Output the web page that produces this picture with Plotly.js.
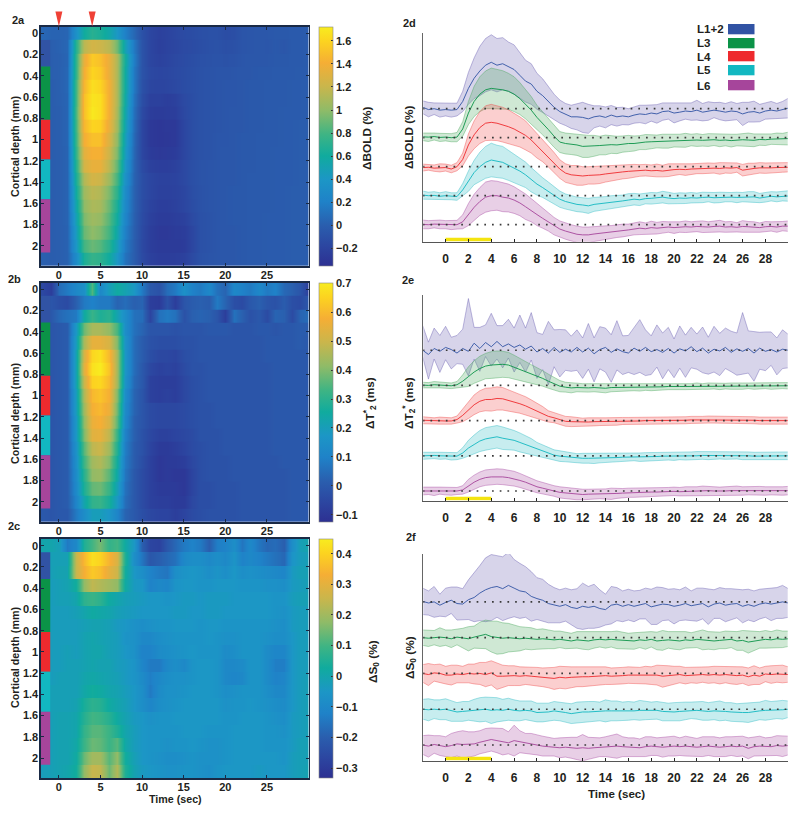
<!DOCTYPE html>
<html><head><meta charset="utf-8">
<script src="https://cdn.plot.ly/plotly-3.0.1.min.js"></script>
<style>html,body{margin:0;padding:0;background:#fff}</style></head><body>
<div id="chart" style="width:800px;height:814px"></div>
<script>
// ---- heatmap values, hundredths; one row per depth, one column per second from -2 to 30
const HEAT_A=[
[5,3,3,4,35,60,70,65,55,40,20,5,-10,-18,-22,-20,-17,-14,-13,-11,-10,-10,-13,-12,-7,-6,-5,-5,-4,-4,-3,-3,-2],
[3,0,2,5,70,115,125,122,115,92,50,15,-8,-18,-23,-20,-18,-15,-14,-12,-10,-9,-11,-10,-7,-6,-5,-6,-4,-6,-3,-3,-2],
[2,0,1,4,75,135,155,150,135,110,62,18,-8,-18,-21,-19,-16,-14,-12,-10,-9,-8,-9,-8,-6,-5,-5,-5,-4,-4,-3,-3,-2],
[3,0,1,5,75,140,160,155,135,110,60,15,-8,-16,-18,-17,-15,-13,-11,-9,-8,-7,-7,-6,-5,-5,-4,-4,-3,-3,-3,-2,-2],
[2,-1,1,5,80,145,165,160,140,110,60,15,-10,-18,-19,-18,-16,-13,-11,-9,-8,-7,-6,-6,-5,-4,-4,-3,-3,-3,-2,-2,-1],
[2,-1,1,4,80,150,168,165,140,110,58,12,-12,-22,-22,-24,-22,-15,-12,-9,-8,-7,-6,-6,-5,-4,-4,-3,-3,-3,-2,-2,-1],
[1,-1,0,4,82,150,170,165,140,108,55,10,-15,-25,-26,-25,-24,-16,-12,-9,-8,-7,-6,-5,-5,-4,-4,-3,-3,-2,-2,-2,-1],
[1,-1,0,4,80,145,160,158,135,105,52,8,-18,-28,-30,-28,-28,-18,-12,-9,-8,-7,-6,-5,-5,-4,-4,-3,-3,-2,-2,-1,-1],
[1,-1,0,4,78,140,150,150,128,100,48,6,-18,-28,-30,-29,-28,-18,-12,-9,-8,-6,-6,-5,-4,-4,-3,-3,-3,-2,-2,-1,-1],
[1,-1,0,3,75,132,142,142,122,95,45,5,-18,-26,-28,-27,-26,-18,-12,-9,-8,-6,-5,-5,-4,-4,-3,-3,-2,-2,-2,-1,-1],
[1,-1,0,3,70,125,135,135,115,88,40,4,-14,-22,-24,-24,-22,-16,-11,-8,-7,-6,-5,-5,-4,-4,-3,-3,-2,-2,-2,-1,-1],
[1,-1,0,3,65,112,125,122,105,80,35,3,-12,-18,-21,-21,-20,-16,-11,-8,-7,-6,-5,-5,-4,-3,-3,-3,-2,-2,-2,-1,-1],
[1,-1,0,3,60,105,115,112,95,72,30,2,-12,-18,-22,-22,-21,-18,-12,-9,-7,-6,-5,-4,-4,-3,-3,-3,-2,-2,-1,-1,-1],
[1,-1,0,3,55,100,110,108,90,65,27,2,-13,-20,-24,-24,-22,-18,-13,-9,-7,-6,-5,-4,-4,-3,-3,-3,-2,-2,-1,-1,-1],
[1,-1,0,3,50,95,105,102,85,60,24,1,-14,-22,-26,-26,-24,-22,-15,-10,-8,-6,-5,-4,-4,-3,-3,-2,-2,-2,-1,-1,-1],
[1,-1,0,2,45,90,100,95,80,54,20,0,-15,-24,-28,-28,-26,-25,-18,-10,-8,-6,-5,-5,-4,-3,-3,-2,-2,-2,-1,-1,-1],
[1,-1,0,2,40,80,90,85,70,47,16,-1,-16,-24,-27,-27,-27,-26,-18,-10,-8,-6,-5,-5,-4,-3,-3,-2,-2,-2,-1,-1,-1],
[1,-1,0,2,30,65,75,72,60,40,12,-1,-15,-22,-25,-25,-24,-22,-15,-9,-7,-6,-5,-5,-4,-3,-3,-2,-2,-2,-1,-1,-1]];
const HEAT_B=[
[-5,-8,5,8,12,15,35,12,20,25,22,18,8,0,-2,5,8,15,10,8,12,6,3,12,10,8,12,8,10,4,2,-1,-8],
[-2,-1,-3,-4,2,8,10,8,8,3,5,2,3,-8,-9,-2,-8,-1,1,2,1,8,3,-3,-4,0,2,-1,-2,1,-3,-4,0],
[-2,0,4,6,8,25,32,28,30,22,14,6,5,-6,6,8,6,-2,2,3,2,-1,-8,6,2,-2,0,-4,3,2,-4,3,5],
[-1,-1,0,1,18,38,45,45,42,34,14,6,3,-1,-1,-1,-2,-1,-1,-1,0,0,0,-1,-1,-1,0,0,-1,0,0,1,1],
[0,-1,0,1,20,45,55,55,52,40,16,5,1,-2,-3,-3,-3,-2,-2,-1,-1,-1,-1,-1,-1,-1,-1,0,0,0,0,1,0],
[0,-1,0,1,22,52,66,68,60,44,17,5,1,-3,-5,-5,-6,-3,-2,-1,-1,-1,-1,-1,-1,-1,-1,0,0,0,0,0,0],
[0,-1,0,1,22,54,68,70,62,44,17,5,0,-5,-7,-6,-7,-4,-2,-2,-1,-1,-1,-1,-1,-1,-1,-1,0,0,0,0,0],
[0,-1,0,1,22,50,65,66,60,44,16,4,0,-7,-8,-8,-8,-5,-3,-2,-1,-1,-1,-1,-1,-1,-1,-1,0,0,0,0,0],
[0,-1,0,1,20,46,60,62,58,40,14,3,-1,-7,-8,-7,-8,-5,-3,-2,-1,-1,-1,-1,-1,-1,-1,-1,0,0,0,0,0],
[0,-1,0,1,20,44,58,60,56,38,13,3,-1,-4,-5,-5,-5,-4,-3,-2,-2,-1,-1,-1,-1,-1,-1,-1,0,0,0,0,0],
[0,-1,0,1,18,42,56,58,52,36,12,2,-1,-4,-5,-5,-5,-4,-3,-2,-2,-1,-1,-1,-1,-1,-1,-1,0,0,0,0,0],
[0,-1,0,1,18,40,54,55,48,32,10,2,-2,-5,-7,-7,-6,-5,-4,-2,-2,-2,-1,-1,-1,-1,-1,-1,0,0,0,0,0],
[0,-1,0,1,16,36,48,50,44,29,9,1,-2,-6,-9,-9,-8,-6,-4,-3,-2,-2,-1,-1,-1,-1,-1,-1,0,0,0,0,0],
[0,-1,0,1,15,33,44,46,40,26,8,1,-3,-7,-10,-9,-9,-8,-5,-3,-2,-2,-2,-1,-1,-1,-1,-1,-1,0,0,0,0],
[0,-1,0,1,14,30,42,43,36,24,7,0,-4,-7,-10,-9,-10,-10,-6,-3,-2,-2,-2,-1,-1,-1,-1,-1,-1,-1,0,0,0],
[0,-1,0,1,13,28,37,38,32,21,6,0,-4,-7,-9,-9,-9,-10,-6,-3,-3,-2,-2,-2,-1,-1,-1,-1,-1,-1,0,0,0],
[0,-1,0,1,11,23,31,32,27,18,5,0,-4,-7,-8,-8,-9,-9,-5,-3,-3,-2,-2,-2,-1,-1,-1,-1,-1,-1,0,0,0],
[0,-1,0,0,8,14,20,20,17,11,3,0,-3,-5,-6,-6,-8,-6,-4,-3,-2,-2,-2,-2,-1,-1,-1,-1,-1,-1,0,0,0]];
const HEAT_C=[
[0,0,-2,-14,-10,5,10,15,8,10,2,-5,-20,-27,-28,-22,-18,-14,-12,-14,-20,-13,-12,-8,-15,-10,-15,-18,-17,-20,-8,-2,0],
[-3,-2,-2,-2,25,35,42,40,34,28,5,-8,-15,-22,-20,-18,-16,-10,-8,-8,-10,-8,-10,-6,-12,-10,-12,-14,-16,-18,-6,-3,-2],
[-3,-2,-1,-1,25,33,38,36,30,26,3,-5,-8,-12,-14,-15,-8,-6,-5,-6,-8,-6,-8,-5,-8,-7,-8,-9,-10,-11,-4,-2,-2],
[-3,-3,-2,-1,3,18,24,22,20,18,2,-4,-5,-12,-10,-11,-6,-5,-5,-6,-6,-5,-5,-5,-6,-6,-6,-7,-7,-8,-4,-3,-2],
[-3,-3,-2,-2,0,7,9,7,2,0,-2,-3,-4,-5,-5,-6,-5,-4,-4,-5,-4,-4,-4,-5,-5,-5,-5,-5,-6,-6,-3,-2,-2],
[-4,-3,-3,-3,-2,0,2,1,0,-2,-3,-4,-5,-5,-5,-5,-4,-4,-5,-5,-4,-4,-5,-5,-5,-5,-5,-5,-6,-7,-4,-3,-3],
[-4,-3,-3,-3,-3,-2,-1,-1,-2,-4,-5,-7,-8,-7,-6,-6,-5,-5,-5,-6,-5,-5,-6,-6,-6,-6,-6,-6,-7,-8,-4,-3,-3],
[-4,-3,-3,-3,-3,-1,0,-1,-2,-3,-6,-7,-10,-10,-8,-7,-6,-6,-6,-6,-5,-6,-7,-7,-6,-6,-6,-7,-8,-8,-5,-3,-3],
[-4,-3,-3,-2,-3,-1,0,0,-2,-3,-5,-7,-12,-12,-9,-8,-7,-6,-5,-6,-6,-6,-9,-8,-6,-6,-6,-9,-11,-11,-5,-3,-3],
[-3,-3,-3,-2,-2,-1,0,-1,-1,-3,-4,-6,-11,-14,-14,-10,-8,-10,-6,-5,-5,-6,-10,-10,-9,-6,-6,-9,-13,-13,-5,-3,-3],
[-3,-3,-2,-2,-2,0,1,0,-1,-2,-4,-6,-9,-13,-10,-8,-7,-7,-6,-5,-5,-6,-10,-11,-10,-6,-6,-9,-12,-11,-5,-3,-2],
[-3,-2,-2,-2,-2,1,3,2,0,-1,-3,-5,-8,-14,-9,-7,-7,-6,-5,-5,-5,-6,-8,-7,-6,-6,-6,-8,-10,-10,-5,-3,-2],
[-3,-2,-2,-2,-1,4,7,6,2,0,-2,-5,-8,-11,-8,-7,-6,-5,-5,-5,-5,-5,-7,-6,-6,-5,-6,-7,-8,-9,-5,-3,-2],
[-3,-2,-1,-1,0,6,10,9,6,2,-1,-4,-5,-7,-6,-6,-5,-5,-5,-5,-5,-5,-6,-6,-5,-5,-5,-6,-7,-8,-4,-3,-2],
[-3,-2,-1,-1,0,8,12,12,9,5,0,-3,-5,-6,-6,-6,-6,-5,-5,-5,-6,-6,-6,-5,-5,-5,-5,-6,-6,-7,-4,-3,-2],
[-3,-2,-1,-1,1,9,14,13,9,12,1,-3,-5,-6,-6,-7,-6,-6,-5,-6,-7,-7,-6,-5,-5,-5,-5,-6,-6,-6,-4,-2,-2],
[-3,-2,-1,-1,2,14,20,20,12,18,3,-2,-5,-6,-7,-8,-8,-7,-6,-7,-7,-7,-6,-5,-5,-5,-5,-5,-5,-6,-3,-2,-2],
[-3,-2,-1,0,3,18,25,24,14,22,5,-1,-4,-5,-6,-7,-7,-6,-6,-7,-8,-6,-5,-5,-5,-5,-4,-5,-5,-5,-3,-2,-1]];

// ---- series, hundredths; one value per half second from -2 to 30
const D_L1=[5,-3,0,-5,-3,-5,-3,25,70,105,130,150,160,150,155,145,135,115,95,85,60,45,25,5,-10,-20,-28,-28,-30,-35,-28,-25,-30,-22,-28,-25,-28,-22,-18,-20,-15,-18,-10,-8,-15,-12,-8,-10,-5,-12,-8,-5,-8,-12,-8,-10,-18,-12,-10,-15,-8,-5,-8,-3,2];
const D_L1_E=[22,25,20,24,22,24,22,35,55,70,85,92,95,92,90,85,85,80,72,70,62,58,50,45,40,38,40,45,52,50,38,35,36,33,32,30,28,28,30,32,28,32,30,28,34,30,28,30,34,30,32,26,30,30,32,28,40,34,36,30,28,30,26,28,34];
const D_L3=[3,2,4,1,2,0,2,30,85,125,150,165,170,168,165,160,150,135,115,95,70,50,28,5,-15,-20,-22,-25,-30,-30,-28,-27,-25,-24,-25,-22,-20,-20,-17,-15,-14,-13,-12,-12,-10,-10,-9,-8,-8,-9,-8,-7,-9,-8,-10,-8,-7,-8,-9,-6,-7,-5,-4,-5,-3];
const D_L3_E=[13,15,12,14,13,14,16,25,40,52,60,65,70,68,66,62,60,55,50,47,42,40,40,38,36,36,36,36,38,38,36,32,34,30,30,28,28,26,24,26,24,22,24,24,22,22,24,20,22,20,22,20,22,20,22,20,22,24,22,20,20,18,20,20,22];
const D_L4=[-3,-2,-5,-4,-3,-8,0,25,75,110,135,150,153,150,145,138,130,120,108,92,72,55,35,15,-8,-22,-28,-30,-32,-30,-30,-28,-25,-22,-20,-18,-16,-14,-13,-12,-14,-13,-15,-12,-10,-9,-10,-8,-7,-6,-5,-5,-6,-4,-5,-3,-12,-8,-6,-4,-5,-4,-3,-3,-2];
const D_L4_E=[12,10,11,14,12,13,14,22,38,48,55,60,62,60,60,58,55,52,50,45,42,38,36,34,32,32,32,34,32,30,30,30,28,27,25,24,24,22,20,20,20,22,20,22,20,18,20,18,17,18,18,17,20,18,18,16,20,20,18,18,18,17,18,16,16];
const D_L5=[2,0,1,-2,0,-2,-3,20,50,80,100,115,123,118,115,105,95,85,72,55,40,28,15,0,-12,-20,-25,-30,-32,-35,-30,-28,-25,-22,-20,-18,-15,-12,-14,-10,-9,-8,-5,-8,-10,-8,-9,-7,-8,-6,-5,-7,-6,-5,-5,-6,-5,-4,-4,-8,-6,-2,-4,-2,-1];
const D_L5_E=[14,12,13,12,14,12,13,22,35,42,50,55,58,56,55,52,50,47,44,42,38,34,32,30,28,26,26,25,25,26,24,23,22,22,22,20,22,20,20,18,20,18,20,20,18,18,18,18,17,18,16,18,18,16,16,18,16,18,18,16,16,16,17,16,18];
const D_L6=[1,0,2,1,0,-1,0,10,35,60,80,95,100,100,95,92,85,75,62,50,35,22,10,-5,-15,-22,-28,-33,-35,-35,-32,-30,-28,-25,-22,-20,-18,-15,-12,-14,-10,-12,-9,-8,-10,-8,-7,-8,-6,-7,-8,-6,-5,-8,-7,-9,-6,-7,-8,-10,-7,-6,-8,-5,-5];
const D_L6_E=[15,14,13,15,14,16,15,24,38,45,48,52,52,50,50,48,46,44,44,40,38,34,32,30,28,28,28,28,27,27,26,24,24,22,22,22,20,20,22,20,22,20,20,18,20,18,20,18,18,20,18,18,20,18,18,16,20,18,18,16,18,16,18,16,18];

const E_L1=[0,-12,5,-3,8,2,-8,5,-3,20,5,22,10,25,10,18,8,15,3,12,-5,5,-8,8,-6,3,-5,8,-5,6,-10,2,8,-6,4,-4,-8,6,-3,8,-4,2,-6,5,-8,4,-2,10,-4,6,-8,3,-2,8,-6,4,-3,5,-8,6,-3,2,-5,3,0];
const E_L1_UP=[70,35,58,45,60,35,50,55,150,45,60,50,95,45,60,70,55,85,60,95,55,40,90,50,65,55,45,50,40,70,45,65,55,50,80,45,50,60,90,50,45,70,55,60,40,65,45,55,50,60,45,65,50,55,60,45,110,50,60,45,55,50,40,55,45];
const E_L1_DN=[20,70,30,60,35,55,30,45,70,45,65,40,55,50,60,40,70,50,65,40,75,60,90,55,70,60,55,65,75,60,80,55,70,85,60,65,55,75,60,80,65,50,75,60,70,55,75,60,50,70,60,65,70,60,55,75,65,70,80,60,55,45,65,55,50];
const E_L3=[1,0,2,1,0,-1,2,12,25,38,48,55,58,60,60,58,52,46,40,33,27,20,12,4,-2,-5,-7,-6,-7,-7,-6,-7,-8,-6,-6,-5,-5,-5,-6,-5,-5,-4,-4,-3,-4,-3,-3,-3,-2,-3,-2,-2,-3,-2,-2,-3,-2,-1,-2,-2,-1,-2,-1,-1,-1];
const E_L3_E=[8,8,9,8,8,8,9,18,28,32,35,36,38,38,37,36,34,30,28,26,24,22,20,18,16,14,14,12,12,12,12,12,13,12,11,10,10,10,10,9,10,9,9,9,9,9,9,8,9,8,9,8,9,8,9,9,9,8,9,8,8,9,8,8,9];
const E_L4=[1,0,-1,0,-1,-1,3,15,30,45,55,60,60,63,62,58,52,48,42,35,28,20,12,8,3,-2,-3,-4,-5,-4,-3,-3,-3,-2,-2,-1,-1,-1,-1,0,0,-1,0,0,1,1,1,2,2,2,3,3,3,2,3,3,2,2,1,0,0,1,1,1,0];
const E_L4_E=[10,10,9,10,9,9,10,18,24,28,30,32,33,33,32,30,28,27,26,24,22,20,16,14,14,14,14,13,12,12,12,11,11,11,11,10,10,10,10,10,10,10,10,10,10,10,10,10,9,10,10,10,10,10,10,10,10,10,10,10,10,10,10,10,10];
const E_L5=[0,1,1,0,0,-2,-1,8,22,32,42,48,52,54,50,48,44,38,32,26,18,14,8,2,-1,-3,-5,-7,-7,-7,-7,-6,-6,-6,-5,-4,-4,-3,-4,-3,-2,-2,-1,-1,-2,-1,-1,0,0,1,1,2,2,1,2,2,1,0,-1,-1,-1,0,0,0,0];
const E_L5_E=[10,10,9,10,9,10,10,15,22,27,30,32,32,32,32,30,28,27,25,23,20,18,16,15,15,14,14,13,14,14,15,14,13,12,12,11,11,11,12,12,11,12,12,11,11,10,11,11,12,11,12,11,11,11,11,11,12,11,11,11,11,11,11,11,11];
const E_L6=[0,0,-1,1,0,-1,0,3,15,25,33,38,40,41,40,38,35,30,25,18,12,8,3,0,-4,-6,-8,-9,-10,-9,-9,-8,-8,-8,-7,-6,-5,-5,-4,-4,-3,-3,-2,-2,-1,-2,-1,-1,0,1,1,0,-1,0,1,1,0,1,0,0,0,1,0,0,1];
const E_L6_E=[11,10,12,10,11,11,10,12,18,20,21,22,22,22,22,21,21,20,19,18,17,16,16,15,16,16,16,16,15,14,14,14,14,16,14,13,13,13,13,13,13,12,12,12,12,12,13,12,12,13,13,12,12,12,13,13,12,12,12,13,12,12,12,12,12];

const F_L1=[1,-2,0,-6,-1,3,-3,-4,4,8,16,22,26,28,24,30,25,20,18,10,6,3,-3,-6,-8,-5,-10,-12,-8,-10,-8,-12,-14,-6,-4,-8,-5,-8,-5,-3,-9,-7,-4,-5,-8,-6,-3,-7,-5,-3,-9,-4,-2,-6,-4,-3,-8,-5,-8,-4,-2,-4,-2,0,-2];
const F_L1_E=[24,22,28,20,26,24,30,28,36,44,50,58,60,56,58,60,52,50,46,45,38,38,35,32,30,30,32,36,42,38,40,34,28,34,30,28,28,28,26,28,32,34,30,28,32,28,30,27,30,28,32,26,28,30,28,26,30,28,28,27,26,30,28,30,26];
const F_L3=[0,-1,0,1,0,-2,1,-1,-2,1,4,6,2,0,-1,0,-1,-2,-1,-2,-3,-2,-3,-4,-3,-5,-6,-4,-5,-6,-4,-3,-4,-3,-4,-5,-6,-6,-4,-5,-3,-6,-5,-4,-5,-6,-4,-5,-3,-4,-5,-6,-5,-4,-3,-6,-5,-8,-6,-4,-3,-4,-2,-3,-2];
const F_L3_E=[14,15,13,17,14,16,14,18,22,20,24,26,28,30,28,26,24,22,20,20,18,18,17,16,15,15,14,15,16,16,15,14,15,14,16,15,14,15,14,16,14,16,18,15,16,16,15,14,15,18,16,16,15,16,15,17,18,20,17,15,16,15,16,15,14];
const F_L4=[0,-2,1,0,-3,-3,-1,-2,0,-1,0,-2,1,-5,-5,-4,-4,-5,-4,-5,-6,-7,-8,-9,-7,-8,-7,-6,-6,-6,-5,-5,-4,-5,-5,-4,-3,-3,-4,-3,-4,-3,-5,-4,-3,-2,-4,-3,-3,-2,-3,-2,-3,-2,-3,-4,-3,-6,-3,-5,-1,-2,-1,-1,-2];
const F_L4_E=[16,20,15,17,16,18,16,15,17,18,20,22,22,24,20,18,18,17,16,16,17,17,18,20,20,20,19,18,18,17,16,16,16,15,15,15,15,15,15,16,16,18,20,18,16,15,15,14,15,14,15,15,16,15,16,16,15,16,17,15,14,16,15,16,14];
const F_L5=[0,-1,0,-1,0,-3,-5,-4,-3,-2,-1,0,-2,-1,-2,0,-2,-3,-2,-3,-6,-6,-5,-3,-4,-6,-8,-6,-5,-5,-4,-4,-3,-3,-3,-4,-3,-3,-2,-2,-3,-2,-4,-5,-5,-4,-3,-2,-2,-3,-4,-3,-3,-4,-5,-6,-6,-6,-4,-3,-2,-2,-1,-1,0];
const F_L5_E=[18,20,17,18,19,19,17,18,17,20,22,22,24,22,20,20,19,18,17,18,17,17,16,17,17,18,18,19,19,19,18,17,20,18,18,17,17,16,18,17,16,16,17,16,17,17,16,15,16,17,16,16,18,16,17,16,17,18,17,16,18,16,16,17,15];
const F_L6=[0,-2,1,-1,-3,-1,2,1,1,2,5,8,10,8,6,4,8,6,3,2,0,-2,-3,-4,-5,-4,-5,-6,-5,-6,-5,-4,-3,-3,-2,-3,-4,-4,-5,-3,-2,-3,-4,-3,-2,-3,-2,-3,-4,-3,-2,-3,-4,-3,-2,-3,-2,-6,-3,-2,-3,-3,-1,-2,-1];
const F_L6_E=[17,20,16,18,18,22,22,25,23,22,21,22,21,22,24,20,28,20,18,19,18,18,17,16,18,18,19,20,24,20,18,17,18,20,22,18,17,17,16,18,17,16,18,17,18,16,18,17,16,18,17,18,17,18,17,18,18,19,17,18,16,17,18,19,17];

const LAYER_NAMES=['L1+2','L3','L4','L5','L6'];
const LAYER_COLORS=['#3153a4','#0b9347','#ee2a2e','#12b8c1','#a6459b'];
const BAND_RGB=['100,90,175','70,165,90','238,70,70','40,185,195','165,70,160'];
const LAYER_EDGES=[0.0625,0.3125,0.8125,1.1875,1.5625,2.0625];
const STIM=[0,4], MARKS=[0,4];
const HEAT_XT=[0,5,10,15,20,25];
const DEPTH_TICKS=[0,0.2,0.4,0.6,0.8,1,1.2,1.4,1.6,1.8,2];
const LINE_XT=[0,2,4,6,8,10,12,14,16,18,20,22,24,26,28];
const CB_A=[1.6,1.4,1.2,1,0.8,0.6,0.4,0.2,0,-0.2];
const CB_B=[0.7,0.6,0.5,0.4,0.3,0.2,0.1,0,-0.1];
const CB_C=[0.4,0.3,0.2,0.1,0,-0.1,-0.2,-0.3];
const PARULA=[[0,'#2d3092'],[0.08,'#2c45a0'],[0.17,'#2a5eae'],[0.27,'#1f82c8'],[0.36,'#1c96c6'],[0.46,'#10ab9e'],[0.55,'#3eb484'],[0.65,'#8ebb68'],[0.75,'#c9b64c'],[0.85,'#f5ae35'],[0.94,'#fcd320'],[1,'#f8ec1f']];

const W=800,H=814,INK='#231f20';
const FB={family:'Liberation Sans, Arial, sans-serif',size:11,color:INK,weight:700};
const F12=Object.assign({},FB,{size:12});
const hx=[41,308.5];
const panels={
 a:{y:[26.7,266],range:[2.19,-0.063],z:HEAT_A,zr:[-0.353,1.72],cb:CB_A,cby:[26.7,266]},
 b:{y:[282.7,522],range:[2.19,-0.063],z:HEAT_B,zr:[-0.124,0.702],cb:CB_B,cby:[282.7,521.7]},
 c:{y:[539,778.3],range:[2.19,-0.063],z:HEAT_C,zr:[-0.333,0.447],cb:CB_C,cby:[539,778.3]}
};
const lp={
 d:{y:[33,241.7],range:[-0.586,6.61],off:[4,3,2,1,0],m:[D_L1,D_L3,D_L4,D_L5,D_L6],up:[D_L1_E,D_L3_E,D_L4_E,D_L5_E,D_L6_E],dn:[D_L1_E,D_L3_E,D_L4_E,D_L5_E,D_L6_E]},
 e:{y:[295,500.7],range:[-0.276,5.57],off:[4,3,2,1,0],m:[E_L1,E_L3,E_L4,E_L5,E_L6],up:[E_L1_UP,E_L3_E,E_L4_E,E_L5_E,E_L6_E],dn:[E_L1_DN,E_L3_E,E_L4_E,E_L5_E,E_L6_E]},
 f:{y:[554,760.7],range:[-0.285,3.47],off:[2.6,1.95,1.3,0.65,0],m:[F_L1,F_L3,F_L4,F_L5,F_L6],up:[F_L1_E,F_L3_E,F_L4_E,F_L5_E,F_L6_E],dn:[F_L1_E,F_L3_E,F_L4_E,F_L5_E,F_L6_E]}
};
const yDom=p=>[1-p[1]/H,1-p[0]/H];
const traces=[],layout={width:W,height:H,margin:{l:0,r:0,t:0,b:0},paper_bgcolor:'#fff',plot_bgcolor:'#fff',showlegend:false,autosize:false,font:FB,annotations:[],shapes:[],hovermode:false};
const heatX=HEAT_A[0].map((_,i)=>i-2);
const heatY=[];HEAT_A.forEach((_,i)=>{const c=i*0.125;heatY.push(c-0.0615,c+0.0615);});
const FRAME='#1a2a45';
Object.keys(panels).forEach((k,idx)=>{
 const p=panels[k],n=idx+1,xa=n===1?'x':'x'+n,ya=n===1?'y':'y'+n,xk=n===1?'xaxis':'xaxis'+n,yk=n===1?'yaxis':'yaxis'+n;
 layout[xk]={domain:[hx[0]/W,hx[1]/W],anchor:ya,range:[-2.15,30],tickvals:HEAT_XT,ticks:'inside',ticklen:3,tickcolor:FRAME,mirror:'ticks',showline:true,linecolor:FRAME,linewidth:1.6,showgrid:false,zeroline:false,tickfont:FB,ticklabelstandoff:-2};
 layout[yk]={domain:yDom(p.y),anchor:xa,range:p.range,tickvals:DEPTH_TICKS,ticktext:DEPTH_TICKS.map(String),ticks:'inside',ticklen:3,tickcolor:FRAME,mirror:'ticks',showline:true,linecolor:FRAME,linewidth:1.6,showgrid:false,zeroline:false,tickfont:FB,ticklabelstandoff:-1};
 const z=[];p.z.forEach(r=>{const v=r.map(a=>a/100);z.push(v,v);});
 traces.push({type:'heatmap',x:heatX,y:heatY,z:z,xaxis:xa,yaxis:ya,zmin:p.zr[0],zmax:p.zr[1],zsmooth:'best',colorscale:PARULA,hoverinfo:'skip',
  colorbar:{x:319/W,xanchor:'left',y:1-p.cby[1]/H,yanchor:'bottom',len:(p.cby[1]-p.cby[0])/H,lenmode:'fraction',thickness:13.5,thicknessmode:'pixels',xpad:0,ypad:0,outlinewidth:0.6,outlinecolor:'#888',tickmode:'array',tickvals:p.cb,ticktext:p.cb.map(v=>String(v).replace('-','\u2212')),ticks:'inside',ticklen:2,tickcolor:'#333',tickfont:FB}});
 LAYER_COLORS.forEach((c,i)=>{
  traces.push({type:'scatter',mode:'lines',x:[-2.15,-1.04,-1.04,-2.15,-2.15],y:[LAYER_EDGES[i],LAYER_EDGES[i],LAYER_EDGES[i+1],LAYER_EDGES[i+1],LAYER_EDGES[i]],fill:'toself',fillcolor:c,line:{width:0},xaxis:xa,yaxis:ya,hoverinfo:'skip'});
 });
});
MARKS.forEach(m=>layout.shapes.push({type:'path',xref:'x',yref:'paper',path:'M '+(m-0.42)+' '+(1-11.5/H)+' L '+(m+0.42)+' '+(1-11.5/H)+' L '+m+' '+(1-26.5/H)+' Z',fillcolor:'#ef4136',line:{width:0},layer:'above'}));

Object.keys(lp).forEach((k,idx)=>{
 const p=lp[k],n=idx+4,xa='x'+n,ya='y'+n;
 layout['xaxis'+n]={domain:[423.3/W,787.7/W],anchor:ya,range:[-1.95,29.95],tickvals:LINE_XT,ticks:'inside',ticklen:3,tickcolor:'#222',showline:true,linecolor:'#555',linewidth:1.2,showgrid:false,zeroline:false,tickfont:F12,ticklabelstandoff:6};
 layout['yaxis'+n]={domain:yDom(p.y),anchor:xa,range:p.range,showticklabels:false,ticks:'',showline:true,linecolor:'#666',linewidth:1.2,showgrid:false,zeroline:false};
 const t=p.m[0].map((_,i)=>-2+i*0.5);
 p.m.forEach((m,i)=>{
  const o=p.off[i],hi=m.map((v,j)=>o+(v+p.up[i][j])/100),lo=m.map((v,j)=>o+(v-p.dn[i][j])/100),mid=m.map(v=>o+v/100);
  const edge={color:'rgba('+BAND_RGB[i]+',0.6)',width:0.7};
  traces.push({type:'scatter',mode:'lines',x:t,y:hi,line:edge,xaxis:xa,yaxis:ya,hoverinfo:'skip'});
  traces.push({type:'scatter',mode:'lines',x:t,y:lo,line:edge,fill:'tonexty',fillcolor:'rgba('+BAND_RGB[i]+',0.26)',xaxis:xa,yaxis:ya,hoverinfo:'skip'});
  traces.push({type:'scatter',mode:'lines',x:t,y:mid,line:{color:LAYER_COLORS[i],width:0.9},xaxis:xa,yaxis:ya,hoverinfo:'skip'});
 });
 p.off.forEach(o=>traces.push({type:'scatter',mode:'lines',x:[-2,30],y:[o,o],line:{color:'#3a3a3a',width:1.7,dash:'1.7px,6px'},xaxis:xa,yaxis:ya,hoverinfo:'skip'}));
 const yb=p.range[0]+(p.range[1]-p.range[0])*2.2/(p.y[1]-p.y[0]);
 traces.push({type:'scatter',mode:'lines',x:STIM,y:[yb,yb],line:{color:'#f4e40f',width:3.4},xaxis:xa,yaxis:ya,cliponaxis:false,hoverinfo:'skip'});
});

const ann=(x,y,text,o)=>layout.annotations.push(Object.assign({xref:'paper',yref:'paper',x:x/W,y:1-y/H,text:text,showarrow:false,xanchor:'center',yanchor:'middle',font:FB},o||{}));
const FT=Object.assign({},FB,{size:10.7}),FR=Object.assign({},FB,{size:11.8});
[['2a',18,20],['2b',14,279],['2c',14,526],['2d',410,23],['2e',408,280],['2f',411,537]].forEach(a=>ann(a[1],a[2],a[0]));
[147,414,658].forEach(y=>ann(15,y,'Cortical depth (mm)',{textangle:-90,font:FT}));
ann(367,138,'\u0394BOLD (%)',{textangle:-90,font:FR});
ann(370,403,'\u0394T<sup>*</sup><sub>2</sub> (ms)',{textangle:-90,font:FR});
ann(373,662,'\u0394S<sub>0</sub> (%)',{textangle:-90,font:FR});
ann(409,137,'\u0394BOLD (%)',{textangle:-90,font:FR});
ann(409,403,'\u0394T<sub>2</sub><sup>*</sup> (ms)',{textangle:-90,font:FR});
ann(410,657,'\u0394S<sub>0</sub> (%)',{textangle:-90,font:FR});
ann(175,799,'Time (sec)',{font:FT});
ann(616,793,'Time (sec)',{font:Object.assign({},FB,{size:11.6})});
const LEG_Y=[29,43,56,70,85];
LAYER_NAMES.forEach((nm,i)=>{
 ann(695,LEG_Y[i],nm,{xanchor:'left',font:Object.assign({},FB,{size:11.6})});
 layout.shapes.push({type:'rect',xref:'paper',yref:'paper',x0:728/W,x1:754.5/W,y0:1-(LEG_Y[i]-5)/H,y1:1-(LEG_Y[i]+5.3)/H,fillcolor:LAYER_COLORS[i],line:{width:0}});
});
Plotly.newPlot('chart',traces,layout,{staticPlot:true,displayModeBar:false});
</script></body></html>
